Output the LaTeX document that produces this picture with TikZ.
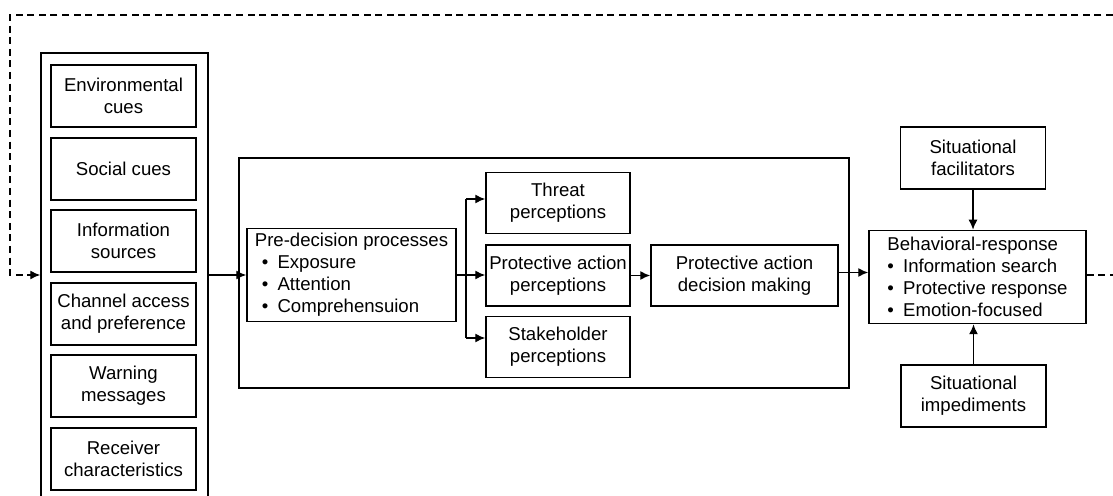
\documentclass[tikz,border=0pt]{standalone}
\usepackage{fontspec}
\setmainfont{Liberation Sans}
\usetikzlibrary{arrows.meta}

\tikzset{
  box/.style={draw, line width=0.75pt, align=center, inner sep=1pt,
    minimum width=72.5pt, minimum height=31pt,
    font=\fontsize{9.3}{11}\selectfont},
  listbox/.style={box, align=left, minimum height=46.5pt},
  group/.style={draw, line width=0.75pt, inner sep=0pt},
  arr/.style={-{Latex[length=5pt,width=4.5pt]}, line width=0.7pt},
  fb/.style={arr, dash pattern=on 3.5pt off 2.3pt},
}
\newcommand{\bul}[1][0pt]{\hspace*{#1}\textbullet\hspace{4.6pt}}

\begin{document}
\begin{tikzpicture}[x=0.5pt, y=-0.5pt]
\useasboundingbox (0,0) rectangle (1113,496);

%------------------ LEFT GROUP (cues) ------------------%
\node[group, minimum width=83.5pt, minimum height=222pt] (cues) at (124.5,275) {};

\node[box] (env)  at (123.5,96)  {Environmental\\cues};
\node[box] (soc)  at (123.5,169) {Social cues};
\node[box] (info) at (123.5,241) {Information\\sources};
\node[box] (chan) at (123.5,314) {Channel access\\and preference};
\node[box] (warn) at (123.5,386) {Warning\\messages};
\node[box] (recv) at (123.5,459) {Receiver\\characteristics};

%------------------ MIDDLE GROUP (processes) ------------------%
\node[group, minimum width=305pt, minimum height=115pt] (proc) at (544,273) {};

\node[listbox, minimum width=104.5pt] (predec) at (351.5,275)
  {Pre-decision processes\\ \bul[3.5pt]Exposure\\ \bul[3.5pt]Attention\\ \bul[3.5pt]Comprehensuion};

\node[box, minimum width=72pt, minimum height=30.5pt] (threat)  at (558,203)   {Threat\\perceptions};
\node[box, minimum width=72pt, minimum height=30.5pt] (protect) at (558,275.5) {Protective action\\perceptions};
\node[box, minimum width=72pt, minimum height=30.5pt] (stake)   at (558,347)   {Stakeholder\\perceptions};

\node[box, minimum width=93.5pt, minimum height=30.5pt] (decide) at (744.5,275.5) {Protective action\\decision making};

%------------------ RIGHT (response) ------------------%
\node[listbox, minimum width=108.5pt] (behav) at (977.5,277)
  {Behavioral-response\\ \bul Information search\\ \bul Protective response\\ \bul Emotion-focused};

\node[box] (facil)  at (973,158)   {Situational\\facilitators};
\node[box] (imped)  at (973.5,396) {Situational\\impediments};

% connectors
\draw[arr] (cues.east) -- (cues.east -| predec.west);

\coordinate (split) at (466,275);
\draw[line width=0.7pt] (predec.east |- split) -- (split);
\draw[line width=0.7pt] ([yshift=2pt]split |- threat.west) -- ([yshift=4.5pt]split |- stake.west);
\draw[arr] ([yshift=2pt]split |- threat.west) -- ([yshift=2pt]threat.west);
\draw[arr] (split) -- (split -| protect.west);
\draw[arr] ([yshift=4.5pt]split |- stake.west) -- ([yshift=4.5pt]stake.west);

\draw[arr] (protect.east) -- (decide.west);
\draw[arr] ([yshift=1.5pt]decide.east) -- ([yshift=1.5pt]decide.east -| behav.west);

\draw[arr] (facil.south) -- (facil.south |- behav.north);
\draw[arr] (imped.north) -- (imped.north |- behav.south);

% feedback loop (dashed)
\coordinate (fbOut) at (1113,275);
\coordinate (fbTop) at (1113,15);
\coordinate (fbCorner) at (10,15);
\draw[fb, -] (behav.east |- fbOut) -- (fbOut);
\draw[fb] (fbTop) -- (fbCorner) |- (cues.west);

\end{tikzpicture}
\end{document}
